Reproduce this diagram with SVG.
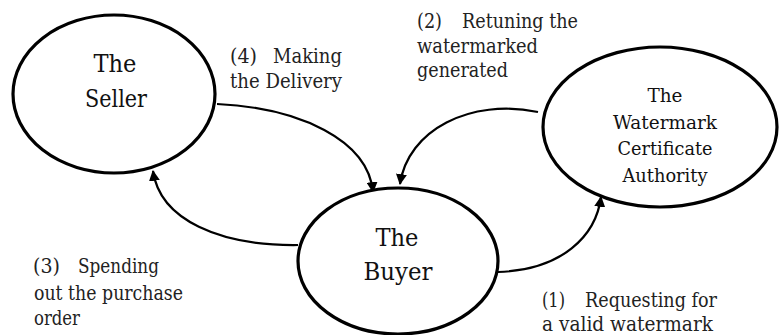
<svg xmlns="http://www.w3.org/2000/svg" width="781" height="335" viewBox="0 0 781 335">
<style>
text{font-family:'DejaVu Serif',serif;fill:#111}
.node{fill:#fff;stroke:#000;stroke-width:3.2}
.nt{font-size:25px;text-anchor:middle}
.ct{font-size:18.5px;text-anchor:middle}
.lb{font-size:19.5px;fill:#222}
.edge{fill:none;stroke:#000;stroke-width:2.2;marker-end:url(#arr)}
</style>
<defs>
<marker id="arr" viewBox="0 0 10 10" refX="9" refY="5" markerWidth="5" markerHeight="5" orient="auto" markerUnits="strokeWidth">
<path d="M0,0 L10,5 L0,10 z" fill="#000"/>
</marker>
</defs>
<rect width="781" height="335" fill="#fff"/>
<g id="connectors">
<path class="edge" d="M217,104 C300,108 368,140 373,192"/>
<path class="edge" d="M298,245 C220,246 160,220 153,171"/>
<path class="edge" d="M538,112 C470,98 408,130 400,184"/>
<path class="edge" d="M498,272 C562,270 596,236 601,197"/>
</g>
<g id="seller">
<ellipse class="node" cx="114" cy="94" rx="101" ry="79"/>
<text class="nt" x="115" y="72" textLength="43" lengthAdjust="spacingAndGlyphs">The</text>
<text class="nt" x="116" y="107" textLength="62" lengthAdjust="spacingAndGlyphs">Seller</text>
</g>
<g id="buyer">
<ellipse class="node" cx="398" cy="261" rx="100" ry="73"/>
<text class="nt" x="397" y="246" textLength="43" lengthAdjust="spacingAndGlyphs">The</text>
<text class="nt" x="398" y="280" textLength="69" lengthAdjust="spacingAndGlyphs">Buyer</text>
</g>
<g id="ca">
<ellipse class="node" cx="660" cy="127" rx="117" ry="80"/>
<text class="ct" x="665" y="102" textLength="35" lengthAdjust="spacingAndGlyphs">The</text>
<text class="ct" x="665" y="129" textLength="104" lengthAdjust="spacingAndGlyphs">Watermark</text>
<text class="ct" x="665" y="155" textLength="95" lengthAdjust="spacingAndGlyphs">Certificate</text>
<text class="ct" x="665" y="182" textLength="85" lengthAdjust="spacingAndGlyphs">Authority</text>
</g>
<g id="label4">
<text class="lb" x="230" y="63" textLength="27" lengthAdjust="spacingAndGlyphs">(4)</text>
<text class="lb" x="273" y="63" textLength="69" lengthAdjust="spacingAndGlyphs">Making</text>
<text class="lb" x="230" y="88" textLength="112" lengthAdjust="spacingAndGlyphs">the Delivery</text>
</g>
<g id="label2">
<text class="lb" x="417" y="28" textLength="25" lengthAdjust="spacingAndGlyphs">(2)</text>
<text class="lb" x="462" y="28" textLength="116" lengthAdjust="spacingAndGlyphs">Retuning the</text>
<text class="lb" x="417" y="53" textLength="121" lengthAdjust="spacingAndGlyphs">watermarked</text>
<text class="lb" x="417" y="77" textLength="91" lengthAdjust="spacingAndGlyphs">generated</text>
</g>
<g id="label3">
<text class="lb" x="33" y="273" textLength="27" lengthAdjust="spacingAndGlyphs">(3)</text>
<text class="lb" x="78" y="273" textLength="81" lengthAdjust="spacingAndGlyphs">Spending</text>
<text class="lb" x="34" y="300" textLength="149" lengthAdjust="spacingAndGlyphs">out the purchase</text>
<text class="lb" x="34" y="325" textLength="46" lengthAdjust="spacingAndGlyphs">order</text>
</g>
<g id="label1">
<text class="lb" x="542" y="307" textLength="23" lengthAdjust="spacingAndGlyphs">(1)</text>
<text class="lb" x="585" y="307" textLength="132" lengthAdjust="spacingAndGlyphs">Requesting for</text>
<text class="lb" x="542" y="331" textLength="171" lengthAdjust="spacingAndGlyphs">a valid  watermark</text>
</g>
</svg>
